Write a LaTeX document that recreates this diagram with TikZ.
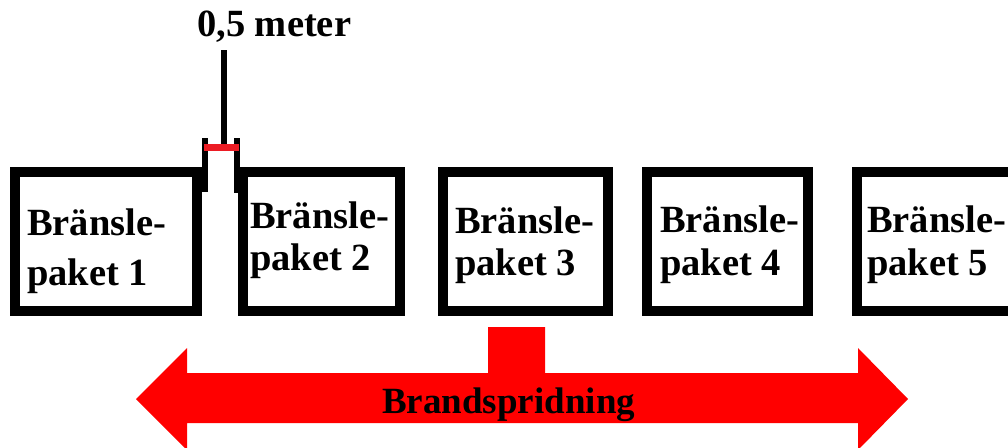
\documentclass[tikz,border=0pt]{standalone}
\usepackage{fontspec}
\setmainfont{Liberation Serif}
\definecolor{dimred}{RGB}{236,28,36}
\definecolor{flame}{RGB}{255,0,0}
\begin{document}
\begin{tikzpicture}[x=1pt,y=-1pt,
  pkg/.style={draw=black,line width=10pt,rectangle,inner sep=0pt,minimum height=139pt},
  txt/.style={anchor=base west,inner sep=0pt,font=\fontsize{38.5}{41}\selectfont\bfseries},
  tick/.style={draw=black,line width=6pt},
  dimline/.style={draw=dimred,line width=7pt},
  lead/.style={draw=black,line width=6pt}]
\useasboundingbox (0,0) rectangle (1008,447);
\clip (0,0) rectangle (1008,447);

% fuel packages
\node[pkg,minimum width=182pt] (p1) at (106,241.5) {};
\node[pkg,minimum width=157pt] (p2) at (321.5,241.5) {};
\node[pkg,minimum width=165pt] (p3) at (525.5,241.5) {};
\node[pkg,minimum width=161pt] (p4) at (727.5,241.5) {};
\node[pkg,minimum width=173pt] (p5) at (943.5,241.5) {};

% package labels
\node[txt] (t1a) at (27,235) {Bränsle-};
\node[txt] (t1b) at (27,285) {paket 1};
\node[txt] (t2a) at (250,228) {Bränsle-};
\node[txt] (t2b) at (250,270) {paket 2};
\node[txt] (t3a) at (455,233) {Bränsle-};
\node[txt] (t3b) at (455,275) {paket 3};
\node[txt] (t4a) at (660,232) {Bränsle-};
\node[txt] (t4b) at (660,275) {paket 4};
\node[txt] (t5a) at (867,232) {Bränsle-};
\node[txt] (t5b) at (867,275) {paket 5};

% gap dimension between package 1 and 2
\coordinate (tl1) at (205,138);
\coordinate (tl2) at (205,192);
\coordinate (tr1) at (236.5,138);
\coordinate (tr2) at (236.5,193);
\draw[tick] (tl1) -- (tl2);
\draw[tick] (tr1) -- (tr2);
\coordinate (dl) at (204,147.5);
\coordinate (dr) at (239,147.5);
\draw[dimline] (dl) -- (dr);
\node[txt] (dim) at (197,36) {0,5 meter};
\coordinate (ld1) at (224,50);
\coordinate (ld2) at (224,144);
\draw[lead] (ld1) -- (ld2);

% fire spread arrow
\fill[flame] (136,399) -- (187,348) -- (187,373) -- (488,373) -- (488,327)
  -- (545,327) -- (545,373) -- (858,373) -- (858,348) -- (908,399)
  -- (858,450) -- (858,423) -- (187,423) -- (187,450) -- cycle;
\node[txt,font=\fontsize{37}{40}\selectfont\bfseries] (spread) at (382,413) {Brandspridning};
\end{tikzpicture}
\end{document}
